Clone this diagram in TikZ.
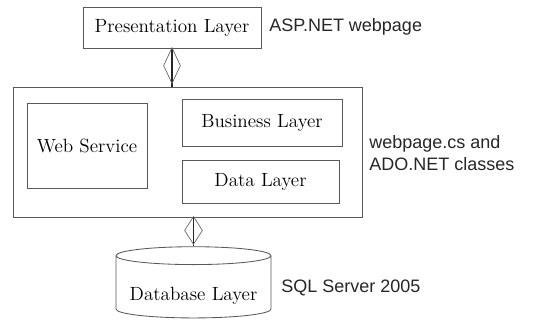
\documentclass[tikz,border=0pt]{standalone}
\usepackage{fontspec}
\newfontfamily\labelfont{Liberation Sans}
\usepackage{tikz}
\usetikzlibrary{shapes,arrows,positioning,calc}

\begin{document}
\begin{tikzpicture}[
    x=0.025cm, y=-0.025cm,
    layer/.style={rectangle, draw=black!65, line width=0.6pt, text centered, inner sep=0pt, font=\fontsize{13.6}{16}\selectfont},
    dbase/.style={cylinder, shape border rotate=90, aspect=0.14, draw=black!65, line width=0.6pt, inner sep=0pt, font=\fontsize{13.6}{16}\selectfont},
    note/.style={anchor=west, inner sep=0pt, align=left, font=\labelfont\fontsize{12.8}{15.5}\selectfont, text=black!85},
    link/.style={line width=1.1pt, black!85},
    lozenge/.style={diamond, draw=black!60, line width=0.5pt, inner sep=0pt}
]
\useasboundingbox (0,0) rectangle (543,323);

% Presentation
\node[layer, minimum width=4.45cm, minimum height=1.025cm] (pres) at (172,27.5) {Presentation Layer};
\node[note] (asp) at (269,27) {ASP.NET webpage};

% Middle tier
\node[layer, minimum width=8.725cm, minimum height=3.25cm] (tier) at (187.5,152) {};
\node[layer, minimum width=3cm, minimum height=2.125cm] (websvc) at (87,145.5) {Web Service};
\node[layer, minimum width=4cm, minimum height=1.175cm] (business) at (262,122.5) {Business Layer};
\node[layer, minimum width=3.925cm, minimum height=1.075cm] (datalayer) at (260.5,181.5) {Data Layer};
\node[note] (classes) at (369,153) {webpage.cs and\\ADO.NET classes};

% Database
\node[dbase, minimum width=3.875cm, minimum height=1.78cm] (db) at (193.5,287) {\raisebox{-0.34cm}[0pt][0pt]{Database Layer}};
\node[note] (sql) at (281,288) {SQL Server 2005};

% Links
\draw[link] (pres.south) -- (pres.south |- tier.north)
    node[pos=0.45, lozenge, minimum width=0.425cm, minimum height=0.9cm] (d1) {};
\draw[link] (db.north |- tier.south) -- (db.north)
    node[pos=0.45, lozenge, minimum width=0.45cm, minimum height=0.7cm] (d2) {};

\end{tikzpicture}
\end{document}
